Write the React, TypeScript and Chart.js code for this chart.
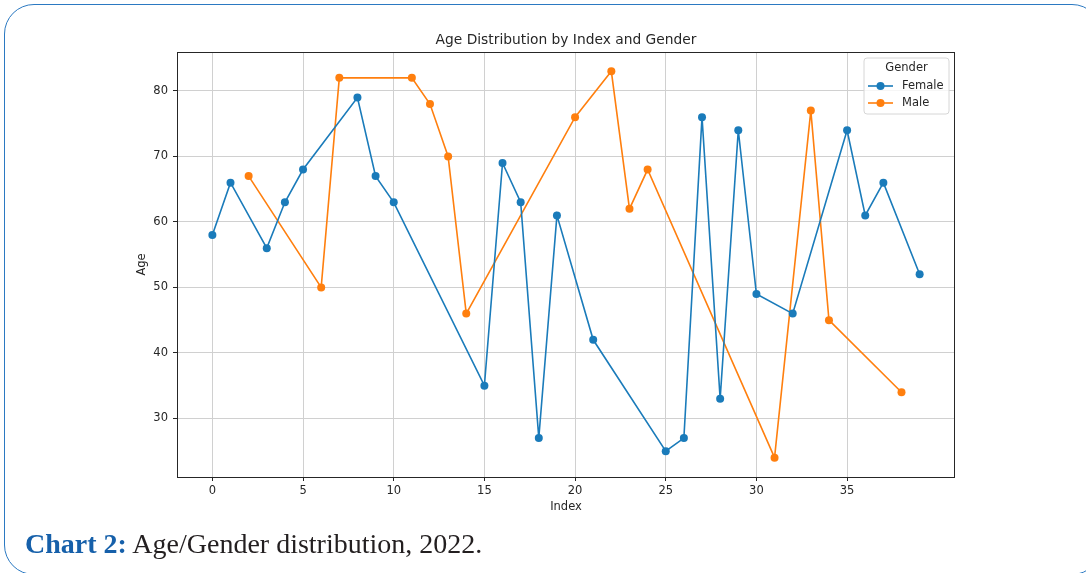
import React, { useEffect, useRef } from "react";
import { Chart, registerables } from "chart.js";

Chart.register(...registerables);

// ---- data ----
const femaleIndex = [0, 1, 3, 4, 5, 8, 9, 10, 15, 16, 17, 18, 19, 21, 25, 26, 27, 28, 29, 30, 32, 35, 36, 37, 39];
const femaleAge = [58, 66, 56, 63, 68, 79, 67, 63, 35, 69, 63, 27, 61, 42, 25, 27, 76, 33, 74, 49, 46, 74, 61, 66, 52];
const maleIndex = [2, 6, 7, 11, 12, 13, 14, 20, 22, 23, 24, 31, 33, 34, 38];
const maleAge = [67, 50, 82, 82, 78, 70, 46, 76, 83, 62, 68, 24, 77, 45, 34];
const xTicks = [0, 5, 10, 15, 20, 25, 30, 35];
const yTicks = [30, 40, 50, 60, 70, 80];
const seriesNames = ["Female", "Male"];
const seriesColors = ["#1a7bba", "#ff7f0e"];
const chartTitle = "Age Distribution by Index and Gender";
const xLabel = "Index";
const yLabel = "Age";
const legendTitle = "Gender";

const FONT = '"DejaVu Sans", sans-serif';
const TEXT = "#262626";

const overlayPlugin = {
  id: "overlay",
  afterDraw(chart: any) {
    const { ctx, chartArea: a } = chart;
    ctx.save();
    // axes frame
    ctx.strokeStyle = TEXT;
    ctx.lineWidth = 1;
    ctx.strokeRect(Math.round(a.left) + 0.5, Math.round(a.top) + 0.5, Math.round(a.right - a.left) - 1, Math.round(a.bottom - a.top));
    // title
    ctx.fillStyle = TEXT;
    ctx.textAlign = "center";
    ctx.textBaseline = "middle";
    ctx.font = `13.8px ${FONT}`;
    ctx.fillText(chartTitle, (a.left + a.right) / 2, a.top - 12);
    // x label
    ctx.font = `11.5px ${FONT}`;
    ctx.fillText(xLabel, (a.left + a.right) / 2, a.bottom + 30);
    // y label
    ctx.save();
    ctx.translate(a.left - 35, (a.top + a.bottom) / 2);
    ctx.rotate(-Math.PI / 2);
    ctx.fillText(yLabel, 0, 0);
    ctx.restore();

    // legend
    const bw = 85, bh = 56;
    const bx = a.right - 6 - bw, by = a.top + 6;
    ctx.beginPath();
    const r = 3;
    ctx.moveTo(bx + r, by);
    ctx.lineTo(bx + bw - r, by);
    ctx.quadraticCurveTo(bx + bw, by, bx + bw, by + r);
    ctx.lineTo(bx + bw, by + bh - r);
    ctx.quadraticCurveTo(bx + bw, by + bh, bx + bw - r, by + bh);
    ctx.lineTo(bx + r, by + bh);
    ctx.quadraticCurveTo(bx, by + bh, bx, by + bh - r);
    ctx.lineTo(bx, by + r);
    ctx.quadraticCurveTo(bx, by, bx + r, by);
    ctx.closePath();
    ctx.fillStyle = "rgba(255,255,255,0.8)";
    ctx.fill();
    ctx.strokeStyle = "#d6d6d6";
    ctx.lineWidth = 1;
    ctx.stroke();

    ctx.fillStyle = TEXT;
    ctx.font = `11.5px ${FONT}`;
    ctx.textAlign = "center";
    ctx.fillText(legendTitle, bx + bw / 2, by + 10);
    chart.data.datasets.forEach((ds: any, i: number) => {
      const y = by + 28 + i * 17;
      const lx0 = bx + 4, lx1 = bx + 29;
      ctx.strokeStyle = ds.borderColor;
      ctx.lineWidth = 1.6;
      ctx.beginPath();
      ctx.moveTo(lx0, y);
      ctx.lineTo(lx1, y);
      ctx.stroke();
      ctx.fillStyle = ds.backgroundColor;
      ctx.beginPath();
      ctx.arc((lx0 + lx1) / 2, y, 4, 0, Math.PI * 2);
      ctx.fill();
      ctx.fillStyle = TEXT;
      ctx.textAlign = "left";
      ctx.fillText(ds.label, bx + 38, y);
    });
    ctx.restore();
  },
};

function ChartCanvas() {
  const ref = useRef<HTMLCanvasElement | null>(null);
  useEffect(() => {
    if (!ref.current) return;
    const tickFont = { family: FONT, size: 11.5 };
    const chart = new Chart(ref.current, {
      type: "line",
      data: {
        datasets: [
          {
            label: seriesNames[0],
            data: femaleIndex.map((x, i) => ({ x, y: femaleAge[i] })),
            borderColor: seriesColors[0],
            backgroundColor: seriesColors[0],
            borderWidth: 1.6,
            pointRadius: 4,
            pointHoverRadius: 4,
            pointBorderWidth: 0,
            tension: 0,
            fill: false,
          },
          {
            label: seriesNames[1],
            data: maleIndex.map((x, i) => ({ x, y: maleAge[i] })),
            borderColor: seriesColors[1],
            backgroundColor: seriesColors[1],
            borderWidth: 1.6,
            pointRadius: 4,
            pointHoverRadius: 4,
            pointBorderWidth: 0,
            tension: 0,
            fill: false,
          },
        ],
      },
      options: {
        responsive: false,
        animation: false,
        events: [],
        layout: { padding: { top: 52, right: 131, left: 0, bottom: 0 } },
        plugins: {
          legend: { display: false },
          title: { display: false },
          tooltip: { enabled: false },
        },
        scales: {
          x: {
            type: "linear",
            min: -1.95,
            max: 40.95,
            afterBuildTicks: (s: any) => {
              s.ticks = xTicks.map((v) => ({ value: v }));
            },
            afterFit: (s: any) => {
              s.height = 96;
            },
            ticks: { font: tickFont, color: TEXT, padding: 3, maxRotation: 0, autoSkip: false },
            grid: { color: "#d0d0d0", tickColor: TEXT, tickLength: 4, lineWidth: 1 },
            border: { display: false },
          },
          y: {
            type: "linear",
            min: 21.05,
            max: 85.95,
            afterBuildTicks: (s: any) => {
              s.ticks = yTicks.map((v) => ({ value: v }));
            },
            afterFit: (s: any) => {
              s.width = 177;
            },
            ticks: { font: tickFont, color: TEXT, padding: 5, autoSkip: false },
            grid: { color: "#d0d0d0", tickColor: TEXT, tickLength: 4, lineWidth: 1 },
            border: { display: false },
          },
        },
      },
      plugins: [overlayPlugin],
    } as any);
    return () => chart.destroy();
  }, []);
  return <canvas ref={ref} width={1086} height={573} style={{ position: "absolute", left: 0, top: 0, width: 1086, height: 573 }} />;
}

export default function App() {
  return (
    <div style={{ position: "fixed", left: 0, top: 0, width: 1086, height: 573, overflow: "hidden", background: "#fff" }}>
      <div
        style={{
          position: "absolute",
          left: 4,
          top: 4,
          width: 1098,
          height: 571,
          border: "1.5px solid #2b79c2",
          borderRadius: 30,
          boxSizing: "border-box",
        }}
      />
      <ChartCanvas />
      <div
        style={{
          position: "absolute",
          left: 25,
          top: 529,
          font: '28px "Liberation Serif", serif',
          lineHeight: "30px",
          color: "#231f20",
          whiteSpace: "nowrap",
        }}
      >
        <b style={{ color: "#1660aa" }}>Chart 2:</b> Age/Gender distribution, 2022.
      </div>
    </div>
  );
}
